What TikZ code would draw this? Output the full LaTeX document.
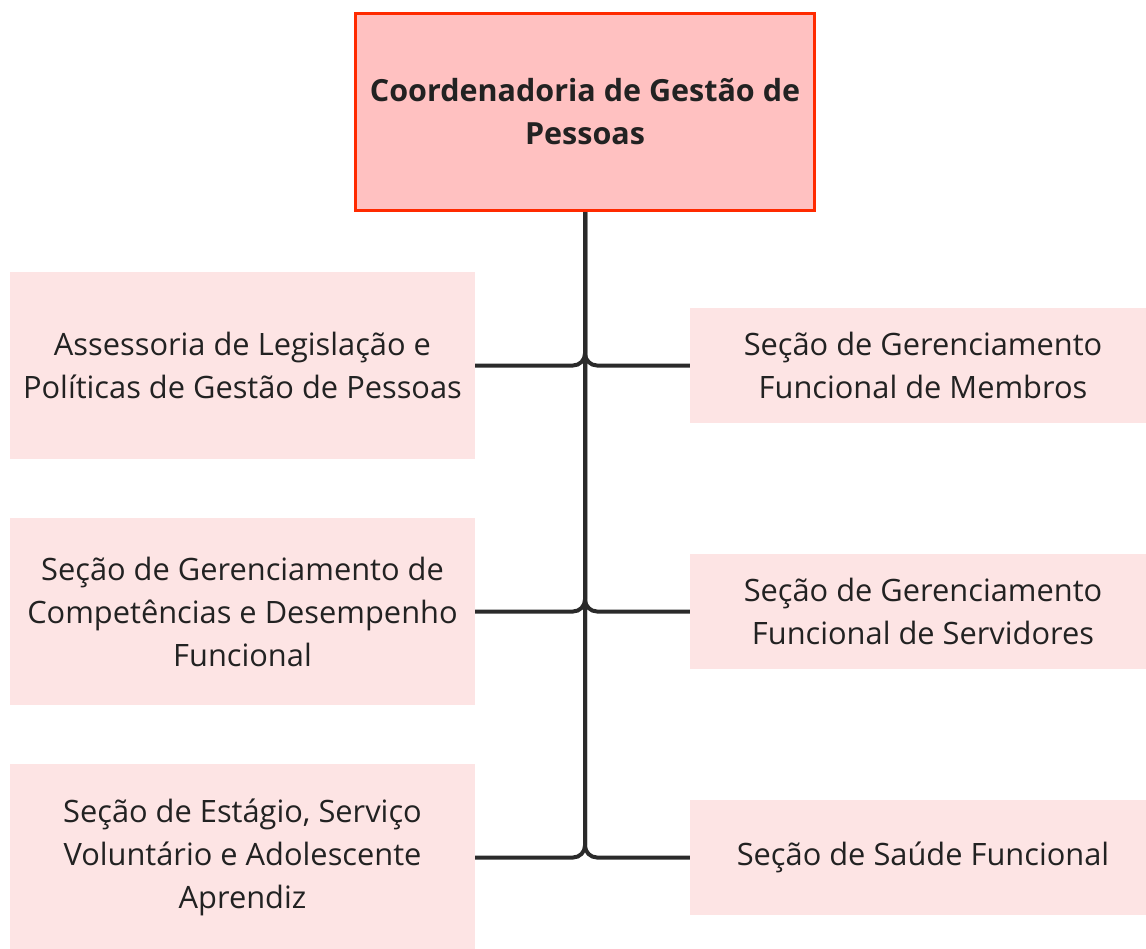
\documentclass[tikz,border=0pt]{standalone}
\usepackage{fontspec}
\setmainfont{Open Sans}
\definecolor{topfill}{HTML}{FFC1C1}
\definecolor{topdraw}{HTML}{FF2A00}
\definecolor{subfill}{HTML}{FDE4E4}
\definecolor{txt}{HTML}{222222}
\definecolor{linec}{HTML}{2A2A2A}
\tikzset{
  topbox/.style={draw=topdraw, line width=3pt, fill=topfill, minimum width=459pt, minimum height=197pt, align=center, text=txt, font=\fontsize{30.5}{43}\selectfont\bfseries, inner sep=0pt},
  leftbox/.style={fill=subfill, minimum width=465pt, minimum height=187pt, align=center, text=txt, font=\fontsize{30.8}{43}\selectfont, inner sep=0pt},
  rightbox/.style={fill=subfill, minimum width=466pt, minimum height=115pt, align=center, text=txt, font=\fontsize{30.8}{43}\selectfont, inner sep=0pt},
  conn/.style={draw=linec, line width=4pt, rounded corners=12pt}
}
\begin{document}
\begin{tikzpicture}[x=1pt,y=-1pt]
\useasboundingbox (0,0) rectangle (1146,948);
\clip (0,0) rectangle (1146,948);
\node[topbox] (top) at (585,112) {Coordenadoria de Gestão de\\Pessoas};
\node[leftbox] (l1) at (242.5,365.5) {Assessoria de Legislação e\\Políticas de Gestão de Pessoas};
\node[leftbox] (l2) at (242.5,611.5) {Seção de Gerenciamento de\\Competências e Desempenho\\Funcional};
\node[leftbox] (l3) at (242.5,857.5) {Seção de Estágio, Serviço\\Voluntário e Adolescente\\Aprendiz};
\node[rightbox] (r1) at (923,365.5) {Seção de Gerenciamento\\Funcional de Membros};
\node[rightbox] (r2) at (923,611.5) {Seção de Gerenciamento\\Funcional de Servidores};
\node[rightbox] (r3) at (923,857.5) {Seção de Saúde Funcional};
\foreach \b in {l1,l2,l3,r1,r2,r3}{
  \draw[conn] (top.south) |- (\b);
}
\end{tikzpicture}
\end{document}
